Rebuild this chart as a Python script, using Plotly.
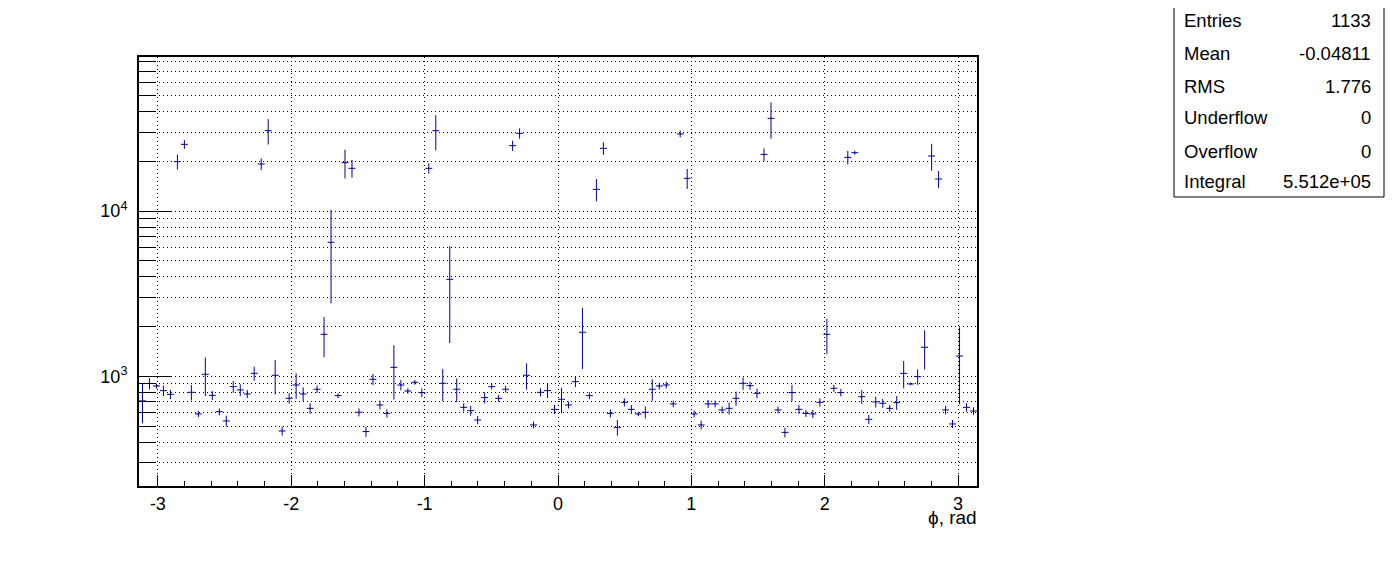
import numpy as np
import plotly.graph_objects as go

# ---- data -------------------------------------------------------------
n_bins = 120
x_min, x_max = -np.pi, np.pi

values = [
    710, 905, 874, 819, 778, 19880, 25310, 800, 592, 1028,
    767, 611, 537, 866, 827, 782, 1042, 19250, 30610, 1014,
    467, 736, 886, 782, 640, 835, 1795, 6465, 764, 19610,
    18120, 606, 463, 959, 671, 597, 1133, 886, 815, 920,
    797, 18120, 30610, 907, 3861, 835, 649, 620, 544, 743,
    866, 736, 835, 24850, 29500, 1014, 508, 800, 819, 631,
    726, 671, 928, 1846, 764, 13520, 23930, 597, 491, 696,
    631, 592, 606, 835, 874, 886, 681, 29230, 15760, 592,
    508, 681, 681, 626, 640, 736, 907, 878, 789, 22010,
    36350, 626, 458, 797, 631, 597, 592, 696, 1795, 846,
    797, 21110, 22530, 753, 549, 700, 687, 640, 693, 1042,
    899, 995, 1498, 21510, 15610, 626, 515, 1327, 649, 617,
]

errors = [
    190, 70, 30, 60, 50, 2080, 1570, 86, 25, 270,
    48, 29, 41, 71, 68, 45, 100, 1570, 5350, 240,
    29, 53, 156, 76, 47, 43, 490, 3700, 25, 3890,
    2220, 34, 33, 74, 42, 34, 410, 64, 31, 30,
    49, 1300, 7340, 200, 2270, 137, 38, 42, 31, 57,
    33, 35, 39, 1780, 2120, 184, 24, 46, 80, 40,
    127, 32, 67, 740, 36, 2090, 2090, 34, 53, 40,
    40, 19, 50, 124, 42, 42, 32, 1380, 2190, 28,
    31, 38, 32, 30, 53, 72, 79, 50, 53, 1920,
    9000, 30, 31, 89, 40, 29, 34, 40, 430, 40,
    41, 1960, 640, 74, 35, 53, 42, 31, 67, 196,
    17, 107, 400, 4000, 1850, 38, 29, 650, 38, 33,
]

x_ticks = [-3, -2, -1, 0, 1, 2, 3]
x_tick_labels = ["-3", "-2", "-1", "0", "1", "2", "3"]
y_ticks = [1000, 10000]
y_tick_labels = ["10<sup>3</sup>", "10<sup>4</sup>"]

stat_names = ["Entries", "Mean", "RMS", "Underflow", "Overflow", "Integral"]
stat_values = ["1133", "-0.04811", "1.776", "0", "0", "5.512e+05"]

x_title = "ϕ, rad"

# ---- derived ----------------------------------------------------------
edges = np.linspace(x_min, x_max, n_bins + 1)
centers = 0.5 * (edges[:-1] + edges[1:])
half_width = (x_max - x_min) / n_bins / 2
y_minor = [m * 10 ** d for d in (2, 3, 4) for m in range(2, 10)]

COL = "rgb(0,0,153)"
FONT = "Liberation Sans, Arial, Helvetica, sans-serif"

# page body has an 8px default margin -> work in page coords, shift by OFF
OFF = 8
PAGE_W, PAGE_H = 1396, 572
W, H = PAGE_W - OFF, PAGE_H - OFF
L, R, T, B = 139, 977, 57, 486   # plot frame in page coordinates

fig = go.Figure(
    go.Scatter(
        x=centers, y=values, mode="markers",
        marker=dict(size=1, color=COL),
        error_y=dict(type="data", array=errors, symmetric=True,
                     color=COL, thickness=1, width=0),
        error_x=dict(type="constant", value=half_width,
                     color=COL, thickness=1, width=0),
        showlegend=False,
    )
)


def px_x(p):
    return (p - L) / (R - L)


def px_y(p):
    return (B - p) / (B - T)


grid_dash = "1px,3px"

fig.update_layout(
    width=W, height=H,
    margin=dict(l=L - OFF, r=PAGE_W - R, t=T - OFF, b=PAGE_H - B),
    paper_bgcolor="white", plot_bgcolor="white",
    font=dict(family=FONT, size=18, color="black"),
    xaxis=dict(
        range=[x_min, x_max],
        tickmode="array", tickvals=x_ticks, ticktext=x_tick_labels,
        ticks="inside", ticklen=11, tickwidth=1, tickcolor="black",
        showgrid=True, gridcolor="black", gridwidth=1, griddash=grid_dash,
        showline=True, linecolor="black", linewidth=2, mirror=True,
        zeroline=False,
        tickfont=dict(family=FONT, size=18),
        ticklabelstandoff=0,
        minor=dict(ticks="inside", ticklen=5, dtick=0.2, tick0=0,
                   tickcolor="black", tickwidth=1, showgrid=False),
    ),
    yaxis=dict(
        type="log", range=[2.3364, 4.9316],
        tickmode="array", tickvals=y_ticks, ticktext=y_tick_labels,
        ticks="inside", ticklen=33, tickwidth=1, tickcolor="black",
        showgrid=True, gridcolor="black", gridwidth=1, griddash=grid_dash,
        showline=True, linecolor="black", linewidth=2, mirror=True,
        zeroline=False,
        tickfont=dict(family=FONT, size=18),
        ticklabelstandoff=6,
        minor=dict(tickmode="array", tickvals=y_minor, ticks="inside",
                   ticklen=16, tickcolor="black", tickwidth=1,
                   showgrid=True, gridcolor="black", gridwidth=1,
                   griddash=grid_dash),
    ),
)

# stats box
shapes = [dict(type="rect", xref="paper", yref="paper",
               x0=px_x(1174), x1=px_x(1384), y0=px_y(197), y1=px_y(3),
               line=dict(color="black", width=1), fillcolor="white", layer="below")]
annotations = []
row_y = [21, 54, 87, 118, 151, 181]
for name, val, yy in zip(stat_names, stat_values, row_y):
    annotations.append(dict(xref="paper", yref="paper", x=px_x(1182), y=px_y(yy),
                            text=name, showarrow=False, xanchor="left", yanchor="middle",
                            xshift=0, font=dict(family=FONT, size=18.5, color="black")))
    annotations.append(dict(xref="paper", yref="paper", x=px_x(1373), y=px_y(yy),
                            text=val, showarrow=False, xanchor="right", yanchor="middle",
                            font=dict(family=FONT, size=18.5, color="black")))

annotations.append(dict(xref="paper", yref="paper", x=px_x(979), y=px_y(517),
                        text=x_title, showarrow=False, xanchor="right", yanchor="middle",
                        font=dict(family=FONT, size=19, color="black")))

fig.update_layout(shapes=shapes, annotations=annotations)

fig.write_html("out.html")
